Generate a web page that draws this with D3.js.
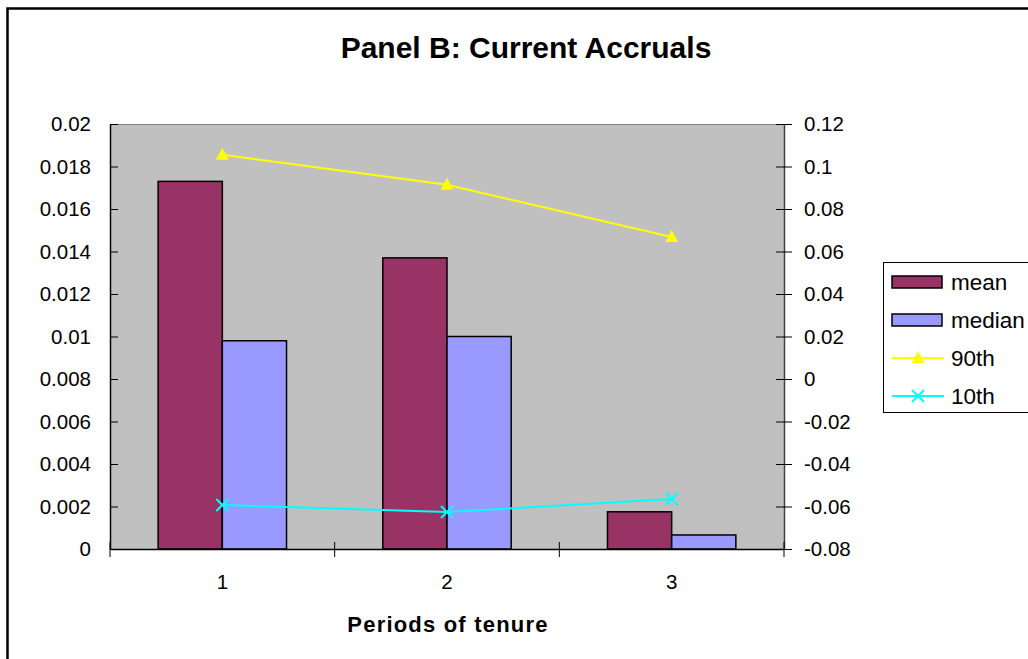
<!DOCTYPE html>
<html><head><meta charset="utf-8">
<script src="https://cdn.jsdelivr.net/npm/d3@7"></script>
<style>body{margin:0;background:#fff;} svg{display:block;font-family:"Liberation Sans",Arial,sans-serif;}</style>
</head><body>
<svg id="c" width="1028" height="659"></svg>
<script>
const categories = ["1","2","3"];
const meanValues = [0.0173, 0.0137, 0.00175];
const medianValues = [0.0098, 0.0100, 0.00066];
const p90Values = [0.1055, 0.0914, 0.0668];
const p10Values = [-0.0593, -0.0626, -0.0565];
const leftTicks = [0,0.002,0.004,0.006,0.008,0.01,0.012,0.014,0.016,0.018,0.02];
const rightTicks = [-0.08,-0.06,-0.04,-0.02,0,0.02,0.04,0.06,0.08,0.1,0.12];
const barSeries = [{name:"mean", values: meanValues, color:"#993366"},{name:"median", values: medianValues, color:"#9999FF"}];
const lineSeries = [{name:"90th", values: p90Values, color:"#FFFF00", marker:"tri"},{name:"10th", values: p10Values, color:"#00FFFF", marker:"x"}];

const svg = d3.select("#c");
const L=110, R=784, T=124, B=549;
svg.append("rect").attr("x",7.5).attr("y",8.5).attr("width",1040).attr("height",680).attr("fill","#fff").attr("stroke","#000").attr("stroke-width",2.5);

const x = d3.scaleBand().domain(categories).range([L,R]).paddingInner(0).paddingOuter(0);
const yL = d3.scaleLinear().domain([0,0.02]).range([B,T]);
const yR = d3.scaleLinear().domain([-0.08,0.12]).range([B,T]);
const bw = x.bandwidth()/3.5;

svg.append("rect").attr("x",L).attr("y",T).attr("width",R-L).attr("height",B-T).attr("fill","#C0C0C0");
svg.append("line").attr("x1",L).attr("x2",R).attr("y1",T+0.5).attr("y2",T+0.5).attr("stroke","#808080").attr("stroke-width",1);

// bars
barSeries.forEach((s,si)=>{
  svg.append("g").selectAll("rect").data(s.values).join("rect")
    .attr("x",(d,i)=>x(categories[i])+x.bandwidth()/2 - bw + si*bw)
    .attr("y",d=>yL(d)).attr("width",bw).attr("height",d=>B-yL(d))
    .attr("fill",s.color).attr("stroke","#000").attr("stroke-width",1.5);
});

// axes
const fmt = d=>String(+d.toFixed(3));
const gl = svg.append("g").attr("transform",`translate(${L},0)`)
  .call(d3.axisLeft(yL).tickValues(leftTicks).tickFormat(fmt).tickSizeInner(8).tickSizeOuter(0).tickPadding(11));
gl.selectAll(".tick line").attr("x2",8);
const gr = svg.append("g").attr("transform",`translate(${R},0)`)
  .call(d3.axisRight(yR).tickValues(rightTicks).tickFormat(fmt).tickSizeInner(8).tickSizeOuter(0).tickPadding(12));
gr.selectAll(".tick line").attr("x1",-8);
gr.selectAll(".tick text").attr("text-anchor","start");
const gb = svg.append("g").attr("transform",`translate(0,${B})`)
  .call(d3.axisBottom(x).tickSize(0).tickPadding(25));
// category boundary ticks
svg.append("g").selectAll("line").data([L, ...categories.map(c=>x(c)+x.bandwidth())]).join("line")
  .attr("x1",d=>d).attr("x2",d=>d).attr("y1",B-7).attr("y2",B+8).attr("stroke","#000");
[gl,gr,gb].forEach(g=>{
  g.selectAll(".domain").attr("stroke","#000").attr("stroke-width",1.5);
  g.selectAll(".tick line").attr("stroke","#000");
  g.selectAll("text").attr("font-size",20.5).attr("fill","#000").attr("font-family","Liberation Sans, Arial, sans-serif");
});
gr.select(".domain").attr("stroke","#404040");

// lines
const xc = i=>x(categories[i])+x.bandwidth()/2;
lineSeries.forEach(s=>{
  const line = d3.line().x((d,i)=>xc(i)).y(d=>yR(d));
  svg.append("path").datum(s.values).attr("d",line).attr("fill","none").attr("stroke",s.color).attr("stroke-width",2);
  s.values.forEach((v,i)=>drawMarker(s, xc(i), yR(v)));
});
function drawMarker(s,cx,cy){
  if(s.marker==="tri"){
    svg.append("path").attr("d",`M${cx},${cy-7}L${cx+6.5},${cy+5}L${cx-6.5},${cy+5}Z`).attr("fill",s.color);
  } else {
    svg.append("path").attr("d",`M${cx-6},${cy-6}L${cx+6},${cy+6}M${cx-6},${cy+6}L${cx+6},${cy-6}`).attr("stroke",s.color).attr("stroke-width",2);
  }
}

// title
svg.append("text").attr("x",526).attr("y",58).attr("text-anchor","middle").attr("font-weight","bold").attr("font-size",30).text("Panel B: Current Accruals");
svg.append("text").attr("x",448).attr("y",632).attr("text-anchor","middle").attr("font-weight","bold").attr("font-size",22).attr("letter-spacing",1.2).text("Periods of tenure");

// legend
const lg = svg.append("g");
lg.append("rect").attr("x",883.5).attr("y",262.5).attr("width",200).attr("height",150).attr("fill","#fff").attr("stroke","#000").attr("stroke-width",1);
const items = [...barSeries.map(s=>({...s,type:"bar"})), ...lineSeries.map(s=>({...s,type:"line"}))];
items.forEach((s,i)=>{
  const cy = 282 + i*38;
  if(s.type==="bar"){
    lg.append("rect").attr("x",892).attr("y",cy-6).attr("width",50).attr("height",12).attr("fill",s.color).attr("stroke","#000").attr("stroke-width",1.5);
  } else {
    lg.append("line").attr("x1",892).attr("x2",944).attr("y1",cy).attr("y2",cy).attr("stroke",s.color).attr("stroke-width",2);
    if(s.marker==="tri") lg.append("path").attr("d",`M918,${cy-7}L${924.5},${cy+5}L${911.5},${cy+5}Z`).attr("fill",s.color);
    else lg.append("path").attr("d",`M912,${cy-6}L924,${cy+6}M912,${cy+6}L924,${cy-6}`).attr("stroke",s.color).attr("stroke-width",2);
  }
  lg.append("text").attr("x",951).attr("y",cy+8).attr("font-size",22.5).text(s.name);
});
</script>
</body></html>
